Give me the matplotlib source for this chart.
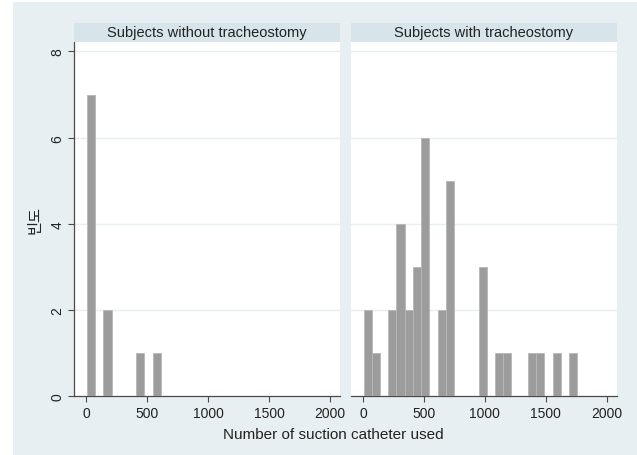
import numpy as np
import matplotlib
matplotlib.use("Agg")
import matplotlib.pyplot as plt
from matplotlib.patches import Rectangle

plt.rcParams['font.family'] = ['Liberation Sans', 'Noto Sans CJK KR', 'DejaVu Sans']

# histogram bins shared by both panels (Stata by())
bin_start = 6
bin_width = 67.3
n_bins = 26

panel_titles = ["Subjects without tracheostomy", "Subjects with tracheostomy"]

# frequency per bin
counts_without = [7, 0, 2, 0, 0, 0, 1, 0, 1, 0, 0, 0, 0,
                  0, 0, 0, 0, 0, 0, 0, 0, 0, 0, 0, 0, 0]
counts_with = [2, 1, 0, 2, 4, 2, 3, 6, 0, 2, 5, 0, 0,
               0, 3, 0, 1, 1, 0, 0, 1, 1, 0, 1, 0, 1]

x_ticks = [0, 500, 1000, 1500, 2000]
y_ticks = [0, 2, 4, 6, 8]
x_label = "Number of suction catheter used"
y_label = "빈도"

bg = '#e8eff2'
strip_col = '#d7e4ea'
grid_col = '#e6eff1'
bar_col = '#9c9c9c'
axis_col = '#4a4a4a'

W, H = 637, 456
fig = plt.figure(figsize=(W / 100, H / 100), dpi=100)
fig.patch.set_facecolor('white')
fig.patches.append(Rectangle((13 / W, 0), 1 - 13 / W, 1 - 3 / H,
                             transform=fig.transFigure, facecolor=bg,
                             edgecolor='none', zorder=-10))

edges = bin_start + bin_width * np.arange(n_bins)
panel_left = [74, 350.7]
pw = 266
top, bot = 43, 397.3

for i, (title, counts) in enumerate(zip(panel_titles, [counts_without, counts_with])):
    ax = fig.add_axes([panel_left[i] / W, 1 - bot / H, pw / W, (bot - top) / H])
    ax.set_facecolor('white')
    ax.bar(edges, counts, width=bin_width, align='edge', color=bar_col,
           edgecolor='#b8b8b8', linewidth=0.6, zorder=3)
    ax.set_xlim(-100, 2080)
    ax.set_ylim(0, 8.22)
    for yv in y_ticks[1:]:
        ax.axhline(yv, color=grid_col, lw=1.0, zorder=1)
    ax.set_xticks(x_ticks)
    ax.set_xticklabels([str(t) for t in x_ticks], fontsize=10)
    ax.tick_params(axis='x', length=4, width=0.8, color=axis_col, pad=3,
                   labelcolor='#222222')
    for s in ['top', 'right']:
        ax.spines[s].set_visible(False)
    ax.spines['bottom'].set_color(axis_col)
    ax.spines['bottom'].set_linewidth(0.9)
    if i == 0:
        ax.set_yticks(y_ticks)
        ax.set_yticklabels([str(t) for t in y_ticks], fontsize=10, rotation=90,
                           va='center')
        ax.tick_params(axis='y', length=4, width=0.8, color=axis_col, pad=3,
                       labelcolor='#222222')
        ax.spines['left'].set_color(axis_col)
        ax.spines['left'].set_linewidth(0.9)
    else:
        ax.set_yticks([])
        ax.spines['left'].set_visible(False)

    # strip title
    fig.patches.append(Rectangle((panel_left[i] / W, 1 - top / H), pw / W, 19 / H,
                                 transform=fig.transFigure, facecolor=strip_col,
                                 edgecolor='none'))
    fig.text((panel_left[i] + pw / 2) / W, 1 - 33.5 / H, title, ha='center',
             va='center', fontsize=10.5, color='#222222')

fig.text(333 / W, 1 - 435 / H, x_label, ha='center', va='center', fontsize=11,
         color='#222222')
fig.text(35 / W, 1 - 220 / H, y_label, ha='center', va='center', fontsize=11,
         rotation=90, color='#222222')

fig.savefig('out.png', dpi=100, facecolor=fig.get_facecolor())
